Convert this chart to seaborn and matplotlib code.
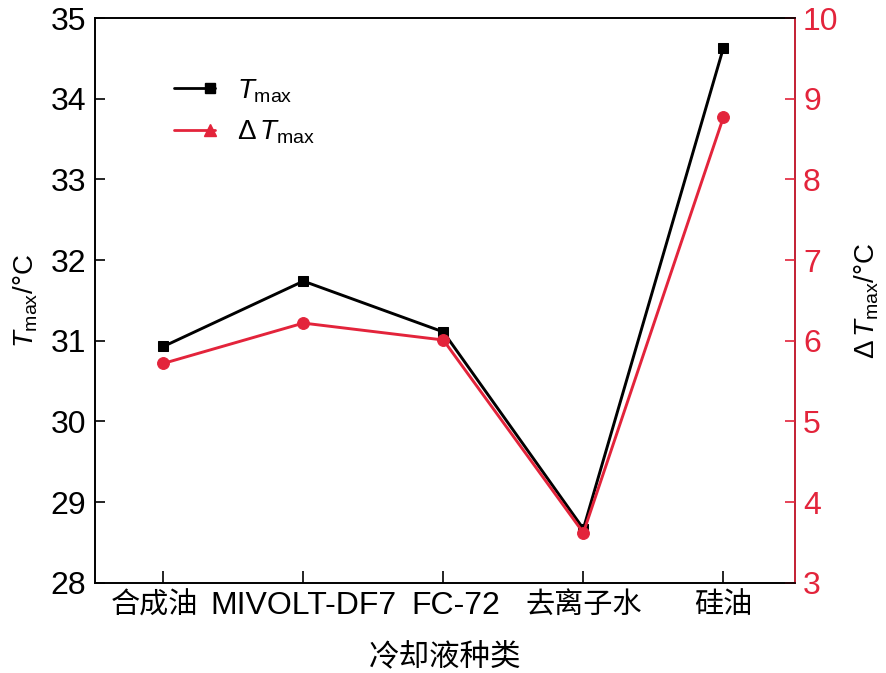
import matplotlib
matplotlib.use("Agg")
import matplotlib.pyplot as plt
import matplotlib.transforms as mtrans
import seaborn as sns
from matplotlib.lines import Line2D
from matplotlib.legend_handler import HandlerLine2D

sns.set_style("ticks")
plt.rcParams["font.family"] = ["Liberation Sans", "Noto Sans CJK SC", "DejaVu Sans"]
plt.rcParams["mathtext.fontset"] = "custom"
plt.rcParams["mathtext.rm"] = "Liberation Sans"
plt.rcParams["mathtext.it"] = "Liberation Sans:italic"
plt.rcParams["axes.unicode_minus"] = False
for k in ["text.color", "axes.labelcolor", "xtick.color", "ytick.color", "axes.edgecolor"]:
    plt.rcParams[k] = "black"

coolants = ["合成油", "MIVOLT-DF7", "FC-72", "去离子水", "硅油"]
t_max = [30.93, 31.74, 31.11, 28.67, 34.63]
dt_max = [5.72, 6.22, 6.01, 3.62, 8.77]
xpos = list(range(len(coolants)))

red = "#E3243B"


class EndMarker(HandlerLine2D):
    # marker only near the right end of the legend line (Origin style)
    def create_artists(self, legend, orig_handle, xdescent, ydescent, width,
                       height, fontsize, trans):
        arts = super().create_artists(legend, orig_handle, xdescent, ydescent,
                                      width, height, fontsize, trans)
        line = arts[0]
        x = line.get_xdata()
        y = line.get_ydata()
        x0, x1 = x[0], x[-1]
        line.set_data([x0, x1 - 0.12 * (x1 - x0), x1], [y[0]] * 3)
        line.set_markevery([1])
        return arts


fig = plt.figure(figsize=(8.86, 6.73), dpi=100)
ax = fig.add_axes([0.107, 0.134, 0.79, 0.839])
ax2 = ax.twinx()

sns.lineplot(x=xpos, y=t_max, ax=ax, color="black", marker="s", markersize=7,
             markeredgecolor="black", linewidth=2.1, sort=False)
sns.lineplot(x=xpos, y=dt_max, ax=ax2, color=red, marker="o", markersize=8.5,
             markeredgecolor=red, linewidth=2.1, sort=False)

ax.set_xlim(-0.49, 4.51)
ax.set_ylim(28, 35)
ax2.set_ylim(3, 10)
ax.set_xticks(xpos)
ax.set_xticklabels(coolants)
ax.set_yticks(range(28, 36))
ax2.set_yticks(range(3, 11))
ax.tick_params(axis="y", direction="in", length=7, width=1.2, labelsize=23, pad=6)
ax.tick_params(axis="x", direction="in", length=9, width=1.2, pad=6)
ax2.tick_params(axis="y", direction="in", length=7, width=1.2, labelsize=23,
                colors=red, pad=6)

for lab in ax.get_xticklabels():
    lab.set_fontsize(23 if lab.get_text().isascii() else 21)
# small horizontal nudges of two labels, as in the original
nudges = {0: -9, 2: 12}
for i, dx in nudges.items():
    lab = ax.get_xticklabels()[i]
    lab.set_transform(lab.get_transform() + mtrans.ScaledTranslation(dx / 100, 0, fig.dpi_scale_trans))

for s in ax.spines.values():
    s.set_linewidth(1.2)
for s in ax2.spines.values():
    s.set_linewidth(1.2)
ax2.spines["right"].set_color(red)

ax.set_xlabel("冷却液种类", fontsize=22, labelpad=15)
ax.set_ylabel(r"$T_{\mathrm{max}}$/°C", fontsize=20, labelpad=8)
ax2.set_ylabel(r"$\Delta\,T_{\mathrm{max}}$/°C", fontsize=20, labelpad=10)

handles = [
    Line2D([], [], color="black", linewidth=2, marker="s", markersize=7),
    Line2D([], [], color=red, linewidth=2, marker="^", markersize=9),
]
ax.legend(handles, [r"$T_{\mathrm{max}}$", r"$\Delta\,T_{\mathrm{max}}$"], loc="upper left",
          bbox_to_anchor=(0.078, 0.94), frameon=False, fontsize=20, numpoints=1,
          handlelength=1.45, handletextpad=0.8, labelspacing=0.5,
          handler_map={Line2D: EndMarker()})

fig.savefig("out.png", dpi=100)
